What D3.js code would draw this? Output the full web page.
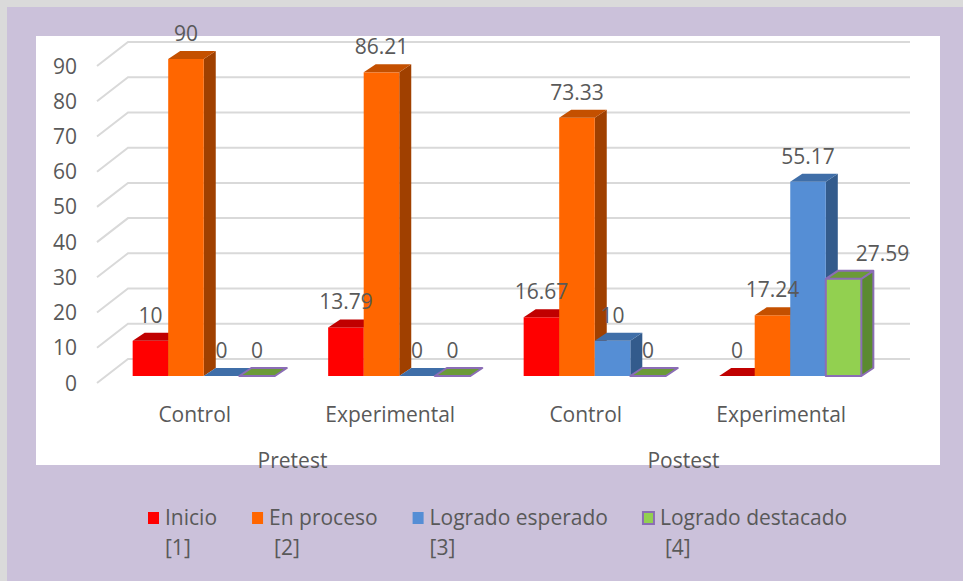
<!DOCTYPE html>
<html>
<head>
<meta charset="utf-8">
<script src="https://cdn.jsdelivr.net/npm/d3@7"></script>
<style>
  body { margin: 0; }
  svg { display: block; }
  text { font-family: 'Open Sans', sans-serif; fill: #595959; }
</style>
</head>
<body>
<div id="chart"></div>
<script>
//chart data
var phases = ['Pretest', 'Postest'];
var categories = ['Control', 'Experimental', 'Control', 'Experimental'];
var seriesNames = ['Inicio', 'En proceso', 'Logrado esperado', 'Logrado destacado'];
var seriesTags = ['[1]', '[2]', '[3]', '[4]'];
var inicio = [10, 13.79, 16.67, 0];
var enProceso = [90, 86.21, 73.33, 17.24];
var logradoEsperado = [0, 0, 10, 55.17];
var logradoDestacado = [0, 0, 0, 27.59];
var yTicks = [0, 10, 20, 30, 40, 50, 60, 70, 80, 90];

var seriesValues = [inicio, enProceso, logradoEsperado, logradoDestacado];

//colours per series: front, top, side, outline
var colors = [
  { front: '#ff0000', top: '#c00000', side: '#a00000', stroke: 'none' },
  { front: '#ff6600', top: '#c45000', side: '#a04000', stroke: 'none' },
  { front: '#558ed5', top: '#3f6ea8', side: '#335b8c', stroke: 'none' },
  { front: '#92d050', top: '#6b9a38', side: '#5b8a30', stroke: '#8b6db5' }
];

var w = 963;
var h = 581;

var svg = d3.select('#chart')
  .append('svg')
  .attr('width', w)
  .attr('height', h);

//background frame
svg.append('rect').attr('width', w).attr('height', h).attr('fill', '#dadada');
svg.append('rect').attr('x', 7).attr('y', 7).attr('width', w - 7).attr('height', h - 7).attr('fill', '#cbc1da');
svg.append('rect').attr('x', 36).attr('y', 36).attr('width', 904).attr('height', 429).attr('fill', '#ffffff');

//scales (front of floor) and 3d offsets
var yScale = d3.scaleLinear().domain([0, 90]).range([383, 66]);
var x0 = d3.scaleBand().domain(d3.range(categories.length)).range([97, 879]);
var x1 = d3.scaleBand().domain(d3.range(seriesNames.length))
  .range([0, x0.bandwidth()]).paddingOuter(0.75);
var wall = { dx: 31, dy: -24 };
var barOff = { dx: 9, dy: -7 };
var depth = { dx: 12, dy: -8 };

//gridlines on left wall and back wall
svg.selectAll('path.grid')
  .data(yTicks)
  .enter()
  .append('path')
  .attr('class', 'grid')
  .attr('fill', 'none')
  .attr('stroke', '#d9d9d9')
  .attr('stroke-width', 2)
  .attr('d', function(d) {
    var y = yScale(d);
    return 'M' + x0.range()[0] + ',' + y +
      'L' + (x0.range()[0] + wall.dx) + ',' + (y + wall.dy) +
      'L' + (x0.range()[1] + wall.dx) + ',' + (y + wall.dy);
  });

//y tick labels
svg.selectAll('text.ytick')
  .data(yTicks)
  .enter()
  .append('text')
  .attr('class', 'ytick')
  .attr('x', 77)
  .attr('y', function(d) { return yScale(d); })
  .attr('dy', '0.36em')
  .attr('text-anchor', 'end')
  .style('font-size', '21px')
  .text(function(d) { return d; });

//one row per bar
var rows = [];
categories.forEach(function(c, g) {
  seriesNames.forEach(function(s, i) {
    rows.push({ g: g, s: i, v: seriesValues[i][g] });
  });
});

function geom(d) {
  var x = x0(d.g) + x1(d.s) + barOff.dx;
  var bw = x1.bandwidth();
  var yb = yScale(0) + barOff.dy;
  var yt = yScale(d.v) + barOff.dy;
  return { x: x, bw: bw, yb: yb, yt: yt };
}

function poly(pts) {
  return 'M' + pts.map(function(p) { return p.join(','); }).join('L') + 'Z';
}

var bars = svg.selectAll('g.bar')
  .data(rows)
  .enter()
  .append('g')
  .attr('class', 'bar')
  .each(function(d) {
    var b = geom(d);
    var c = colors[d.s];
    var el = d3.select(this);
    if (d.v > 0) {
      el.append('path')
        .attr('d', poly([[b.x + b.bw, b.yb], [b.x + b.bw + depth.dx, b.yb + depth.dy],
          [b.x + b.bw + depth.dx, b.yt + depth.dy], [b.x + b.bw, b.yt]]))
        .attr('fill', c.side);
      el.append('rect')
        .attr('x', b.x).attr('y', b.yt)
        .attr('width', b.bw).attr('height', b.yb - b.yt)
        .attr('fill', c.front);
    }
    el.append('path')
      .attr('d', poly([[b.x, b.yt], [b.x + b.bw, b.yt],
        [b.x + b.bw + depth.dx, b.yt + depth.dy], [b.x + depth.dx, b.yt + depth.dy]]))
      .attr('fill', c.top);
    if (c.stroke != 'none') {
      var outline = d.v > 0
        ? poly([[b.x, b.yb], [b.x, b.yt], [b.x + depth.dx, b.yt + depth.dy],
            [b.x + b.bw + depth.dx, b.yt + depth.dy], [b.x + b.bw + depth.dx, b.yb + depth.dy],
            [b.x + b.bw, b.yb]]) +
          'M' + b.x + ',' + b.yt + 'L' + (b.x + b.bw) + ',' + b.yt +
          'L' + (b.x + b.bw + depth.dx) + ',' + (b.yt + depth.dy) +
          'M' + (b.x + b.bw) + ',' + b.yt + 'L' + (b.x + b.bw) + ',' + b.yb
        : poly([[b.x, b.yt], [b.x + b.bw, b.yt],
            [b.x + b.bw + depth.dx, b.yt + depth.dy], [b.x + depth.dx, b.yt + depth.dy]]);
      el.append('path')
        .attr('d', outline)
        .attr('fill', 'none')
        .attr('stroke', c.stroke)
        .attr('stroke-width', 2)
        .attr('stroke-linejoin', 'round');
    }
  });

//data labels (the last one is pushed right in the original)
function labelNudge(d) {
  return (d.g == 3 && d.s == 3) ? 39 : 0;
}

svg.selectAll('text.val')
  .data(rows)
  .enter()
  .append('text')
  .attr('class', 'val')
  .attr('x', function(d) { var b = geom(d); return b.x + b.bw / 2 + labelNudge(d); })
  .attr('y', function(d) { return geom(d).yt + depth.dy - 10; })
  .attr('text-anchor', 'middle')
  .style('font-size', '21px')
  .text(function(d) { return d.v; });

//category labels
svg.selectAll('text.cat')
  .data(categories)
  .enter()
  .append('text')
  .attr('class', 'cat')
  .attr('x', function(d, i) { return x0(i) + x0.bandwidth() / 2; })
  .attr('y', 422)
  .attr('text-anchor', 'middle')
  .style('font-size', '21px')
  .text(function(d) { return d; });

//phase labels
svg.selectAll('text.phase')
  .data(phases)
  .enter()
  .append('text')
  .attr('class', 'phase')
  .attr('x', function(d, i) { return x0(i * 2) + x0.bandwidth(); })
  .attr('y', 468)
  .attr('text-anchor', 'middle')
  .style('font-size', '21px')
  .text(function(d) { return d; });

//legend
var legX = 147;
var tagIndent = [0, 5, 0, 5];
seriesNames.forEach(function(name, i) {
  var c = colors[i];
  svg.append('rect')
    .attr('x', legX + 1).attr('y', 512)
    .attr('width', 11).attr('height', 12)
    .attr('fill', c.front)
    .attr('stroke', c.stroke)
    .attr('stroke-width', c.stroke == 'none' ? 0 : 2);
  var t = svg.append('text')
    .attr('x', legX + 18).attr('y', 525)
    .style('font-size', '21px')
    .text(name);
  svg.append('text')
    .attr('x', legX + 18 + tagIndent[i]).attr('y', 555)
    .style('font-size', '21px')
    .text(seriesTags[i]);
  legX = legX + 18 + t.node().getComputedTextLength() + 34;
});
</script>
</body>
</html>
